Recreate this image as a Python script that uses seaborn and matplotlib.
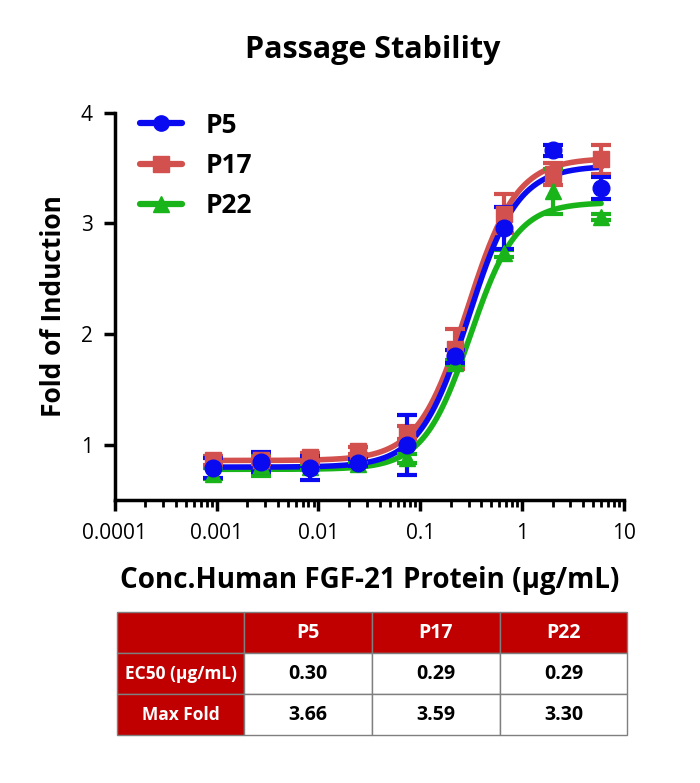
import numpy as np
import matplotlib
matplotlib.use("Agg")
import matplotlib.pyplot as plt
import seaborn as sns
from matplotlib.lines import Line2D
from matplotlib.ticker import LogLocator, NullFormatter

# DATA
conc = [0.000914, 0.00274, 0.00823, 0.0247, 0.0741, 0.222, 0.667, 2.0, 6.0]
series = ["P5", "P17", "P22"]
p5_mean = [0.79, 0.85, 0.79, 0.84, 1.00, 1.80, 2.96, 3.66, 3.32]
p5_err = [0.09, 0.09, 0.11, 0.03, 0.27, 0.06, 0.19, 0.05, 0.10]
p17_mean = [0.86, 0.86, 0.89, 0.95, 1.11, 1.87, 3.09, 3.45, 3.58]
p17_err = [0.04, 0.03, 0.04, 0.03, 0.06, 0.18, 0.18, 0.10, 0.13]
p22_mean = [0.74, 0.82, 0.80, 0.83, 0.88, 1.74, 2.73, 3.29, 3.06]
p22_err = [0.05, 0.10, 0.03, 0.02, 0.04, 0.03, 0.03, 0.20, 0.03]

# 4PL fit parameters: bottom, top, EC50, hill
fit_bottom = [0.80, 0.86, 0.78]
fit_top = [3.52, 3.59, 3.19]
fit_ec50 = [0.30, 0.29, 0.31]
fit_hill = [1.8, 1.8, 1.9]

# table
table_cols = ["", "P5", "P17", "P22"]
table_rows = [["EC50 (μg/mL)", "0.30", "0.29", "0.29"],
              ["Max Fold", "3.66", "3.59", "3.30"]]

colors = {"P5": "#0A0AF0", "P17": "#D2504E", "P22": "#19B419"}
markers = {"P5": "o", "P17": "s", "P22": "^"}
means = {"P5": p5_mean, "P17": p17_mean, "P22": p22_mean}
errs = {"P5": p5_err, "P17": p17_err, "P22": p22_err}

sns.set_style("ticks", {"axes.edgecolor": "black", "text.color": "black",
                        "axes.labelcolor": "black", "xtick.color": "black",
                        "ytick.color": "black"})
plt.rcParams['font.family'] = ['Open Sans', 'DejaVu Sans']

fig = plt.figure(figsize=(7, 7.83), dpi=100)
ax = fig.add_axes([0.164, 0.361, 0.727, 0.495])

xfit = np.logspace(np.log10(conc[0]), np.log10(conc[-1]), 300)
for name in ["P22", "P17", "P5"]:
    i = series.index(name)
    b, t, ec, h = fit_bottom[i], fit_top[i], fit_ec50[i], fit_hill[i]
    yfit = b + (t - b) / (1 + (ec / xfit) ** h)
    sns.lineplot(x=xfit, y=yfit, color=colors[name], lw=4, ax=ax, zorder=3)
    ax.errorbar(conc, means[name], yerr=errs[name], fmt=markers[name],
                color=colors[name], ms=12, elinewidth=3, capsize=7,
                capthick=3, zorder=4)

ax.set_xscale("log")
ax.set_xlim(0.0001, 10)
ax.set_ylim(0.5, 4)
ax.set_xticks([0.0001, 0.001, 0.01, 0.1, 1, 10])
ax.set_xticklabels(["0.0001", "0.001", "0.01", "0.1", "1", "10"])
ax.xaxis.set_minor_locator(LogLocator(base=10, subs=np.arange(2, 10)))
ax.xaxis.set_minor_formatter(NullFormatter())
ax.set_yticks([1, 2, 3, 4])
ax.tick_params(axis="both", which="major", labelsize=15, width=2.5, length=8,
               pad=8, colors="black")
ax.tick_params(axis="x", which="minor", width=2, length=5, colors="black")
sns.despine(ax=ax)
for s in ["left", "bottom"]:
    ax.spines[s].set_linewidth(2.5)
    ax.spines[s].set_color("black")

ax.set_ylabel("Fold of Induction", fontsize=19, fontweight="bold", labelpad=10)
ax.set_xlabel("Conc.Human FGF-21 Protein (μg/mL)", fontsize=20,
              fontweight="bold", labelpad=16)
fig.text(0.533, 0.936, "Passage Stability", fontsize=22, fontweight="bold",
         ha="center", va="center", color="black")

handles = [Line2D([0], [0], color=colors[n], marker=markers[n], lw=4.5, ms=11)
           for n in series]
leg = ax.legend(handles, series, loc="upper left", frameon=False,
                prop={"size": 19, "weight": "bold"}, handlelength=1.6,
                borderaxespad=0, labelspacing=0.5, handletextpad=0.9,
                bbox_to_anchor=(0.028, 1.03))

# TABLE
tax = fig.add_axes([0.167, 0.061, 0.729, 0.157])
tax.axis("off")
red = "#C00000"
tbl = tax.table(cellText=table_rows, colLabels=table_cols,
                loc="center", bbox=[0, 0, 1, 1], cellLoc="center")
tbl.auto_set_font_size(False)
for (r, c), cell in tbl.get_celld().items():
    cell.set_edgecolor("#7F7F7F")
    cell.set_linewidth(1)
    cell.get_text().set_fontweight("bold")
    if r == 0 or c == 0:
        cell.set_facecolor(red)
        cell.get_text().set_color("white")
        cell.get_text().set_fontsize(12.5 if c == 0 else 14)
    else:
        cell.set_facecolor("white")
        cell.get_text().set_color("black")
        cell.get_text().set_fontsize(14)

fig.savefig("out.png", dpi=100)
